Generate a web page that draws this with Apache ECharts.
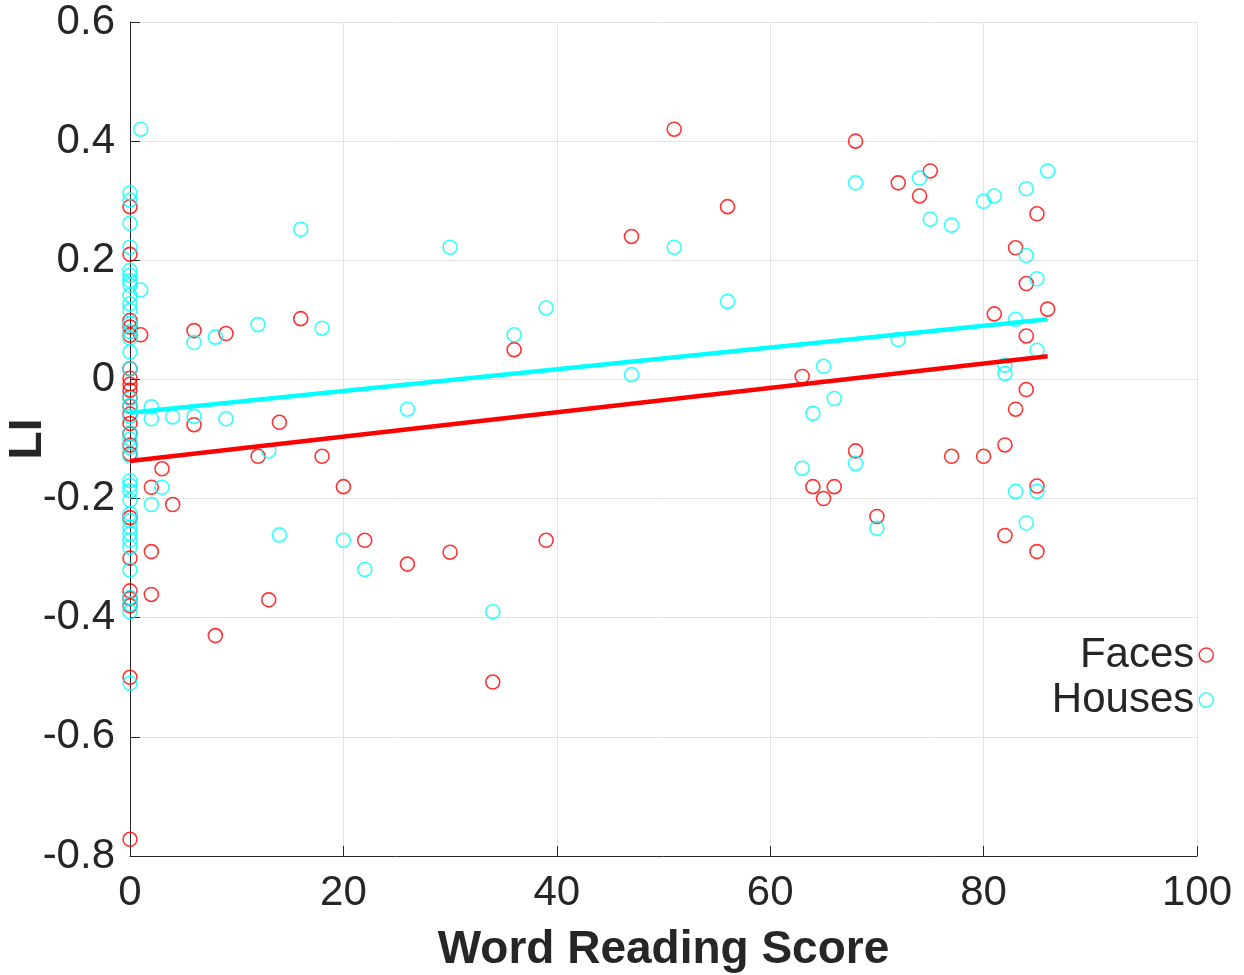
<!DOCTYPE html>
<html>
<head>
<meta charset="utf-8">
<script src="https://cdn.jsdelivr.net/npm/echarts@6/dist/echarts.min.js"></script>
<style>
  html, body { margin: 0; padding: 0; background: #fff; }
  #main { width: 1244px; height: 975px; }
</style>
</head>
<body>
<div id="main"></div>
<script>
// LI values of the subjects whose word reading score is 0
var facesZeroLI = [0.29, 0.21, 0.099, 0.088, 0.074, 0.018, 0.002, -0.008, -0.018, -0.03, -0.045, -0.058,
    -0.074, -0.091, -0.11, -0.125, -0.232, -0.30, -0.355, -0.368, -0.38, -0.50, -0.772]
var housesZeroLI = [0.313, 0.301, 0.262, 0.222, 0.183, 0.175, 0.166, 0.158, 0.141, 0.127, 0.116, 0.094,
    0.08, 0.069, 0.046, 0.018, -0.032, -0.044, -0.062, -0.09, -0.1, -0.114, -0.128, -0.17, -0.178, -0.187,
    -0.203, -0.226, -0.237, -0.248, -0.259, -0.27, -0.282, -0.32, -0.366, -0.377, -0.39, -0.51]

// the others
var facesScore = [1, 2, 2, 2, 3, 4, 6, 6, 8, 9, 12, 13, 14, 16, 18, 20, 22, 26, 30, 34, 36, 39, 47, 51, 56,
    63, 64, 65, 66, 68, 68, 70, 72, 74, 75, 77, 80, 81, 82, 82, 83, 83, 84, 84, 84, 85, 85, 85, 86]
var facesLI = [0.075, -0.181, -0.289, -0.361, -0.15, -0.21, 0.082, -0.076, -0.43, 0.077, -0.129, -0.37, -0.072,
    0.102, -0.129, -0.18, -0.27, -0.31, -0.29, -0.508, 0.05, -0.27, 0.24, 0.42, 0.29,
    0.005, -0.18, -0.2, -0.18, 0.4, -0.12, -0.23, 0.33, 0.308, 0.35, -0.129, -0.129, 0.11, -0.11, -0.262,
    0.221, -0.05, 0.161, 0.073, -0.017, 0.278, -0.179, -0.289, 0.118]

var housesScore = [1, 1, 2, 2, 2, 3, 4, 6, 6, 8, 9, 12, 13, 14, 16, 18, 20, 22, 26, 30, 34, 36, 39, 47, 51, 56,
    63, 64, 65, 66, 68, 68, 70, 72, 74, 75, 77, 80, 81, 82, 82, 83, 83, 84, 84, 84, 85, 85, 85, 86]
var housesLI = [0.42, 0.15, -0.046, -0.066, -0.21, -0.181, -0.063, 0.062, -0.062, 0.071, -0.066, 0.092, -0.12,
    -0.261, 0.252, 0.086, -0.27, -0.319, -0.05, 0.222, -0.39, 0.075, 0.12, 0.008, 0.222, 0.131,
    -0.149, -0.057, 0.022, -0.032, 0.33, -0.141, -0.25, 0.067, 0.338, 0.269, 0.259, 0.299, 0.308, 0.024, 0.01,
    0.101, -0.188, 0.32, 0.208, -0.241, 0.169, 0.049, -0.188, 0.35]

// fitted lines, read at the two ends
var fitScore = [0, 86]
var facesFit = [-0.137, 0.039]
var housesFit = [-0.056, 0.101]

var xTicks = [0, 20, 40, 60, 80, 100]
var yTicks = [-0.8, -0.6, -0.4, -0.2, 0, 0.2, 0.4, 0.6]

function pairs (xs, ys) {
    var out = []
    for (var i = 0; i < xs.length; i++) {
        out.push([xs[i], ys[i]])
    }
    return out
}

function zeroPairs (ys) {
    var out = []
    for (var i = 0; i < ys.length; i++) {
        out.push([0, ys[i]])
    }
    return out
}

var txt = '#262626'
var font = 'Liberation Sans, Arial, Helvetica, sans-serif'

var myChart = echarts.init(document.getElementById('main'), null, { renderer: 'canvas' })

var option = {
    backgroundColor: '#fff',
    animation: false,
    grid: {
        left: 130,
        right: 47,
        top: 22,
        bottom: 119,
        containLabel: false,
        outerBoundsMode: 'none'
    },
    legend: {
        orient: 'vertical',
        right: 25,
        top: 629,
        align: 'right',
        itemWidth: 14,
        itemHeight: 14,
        itemGap: 3,
        textStyle: { fontSize: 42, color: txt, fontFamily: font },
        data: [
            { name: 'Faces', icon: 'circle', itemStyle: { color: '#fff', borderColor: '#ff0000', borderWidth: 1.5 } },
            { name: 'Houses', icon: 'circle', itemStyle: { color: '#fff', borderColor: '#00ffff', borderWidth: 1.5 } }
        ]
    },
    xAxis: {
        type: 'value',
        min: xTicks[0],
        max: xTicks[xTicks.length - 1],
        interval: 20,
        name: 'Word Reading Score',
        nameLocation: 'middle',
        nameGap: 71,
        nameMoveOverlap: false,
        nameTextStyle: { fontSize: 46, fontWeight: 'bold', color: txt, fontFamily: font },
        axisLine: { show: true, onZero: false, lineStyle: { color: txt, width: 1 } },
        axisTick: { show: true, inside: true, length: 10, lineStyle: { color: txt } },
        axisLabel: { fontSize: 42, color: txt, fontFamily: font, margin: 16 },
        splitLine: { show: true, lineStyle: { color: '#e3e3e3', width: 1 } }
    },
    yAxis: {
        type: 'value',
        min: yTicks[0],
        max: yTicks[yTicks.length - 1],
        interval: 0.2,
        name: 'LI',
        nameLocation: 'middle',
        nameGap: 102,
        nameRotate: 90,
        nameMoveOverlap: false,
        nameTextStyle: { fontSize: 46, fontWeight: 'bold', color: txt, fontFamily: font, verticalAlign: 'middle' },
        axisLine: { show: true, onZero: false, lineStyle: { color: txt, width: 1 } },
        axisTick: { show: true, inside: true, length: 10, lineStyle: { color: txt } },
        axisLabel: {
            fontSize: 42,
            color: txt,
            fontFamily: font,
            margin: 15,
            formatter: function (v) {
                return String(Math.round(v * 10) / 10)
            }
        },
        splitLine: { show: true, lineStyle: { color: '#e3e3e3', width: 1 } }
    },
    series: [
        {
            name: 'Faces',
            type: 'scatter',
            symbol: 'circle',
            symbolSize: 14,
            itemStyle: { color: 'rgba(0,0,0,0)', borderColor: '#ff0000', borderWidth: 1.6 },
            data: zeroPairs(facesZeroLI).concat(pairs(facesScore, facesLI)),
            z: 2
        },
        {
            name: 'Houses',
            type: 'scatter',
            symbol: 'circle',
            symbolSize: 14,
            itemStyle: { color: 'rgba(0,0,0,0)', borderColor: '#00ffff', borderWidth: 1.6 },
            data: zeroPairs(housesZeroLI).concat(pairs(housesScore, housesLI)),
            z: 3
        },
        {
            name: 'Faces fit',
            type: 'line',
            showSymbol: false,
            symbol: 'none',
            lineStyle: { color: '#ff0000', width: 4.5 },
            data: pairs(fitScore, facesFit),
            z: 4
        },
        {
            name: 'Houses fit',
            type: 'line',
            showSymbol: false,
            symbol: 'none',
            lineStyle: { color: '#00ffff', width: 4.5 },
            data: pairs(fitScore, housesFit),
            z: 4
        }
    ]
}

myChart.setOption(option)
window.onresize = myChart.resize
</script>
</body>
</html>
